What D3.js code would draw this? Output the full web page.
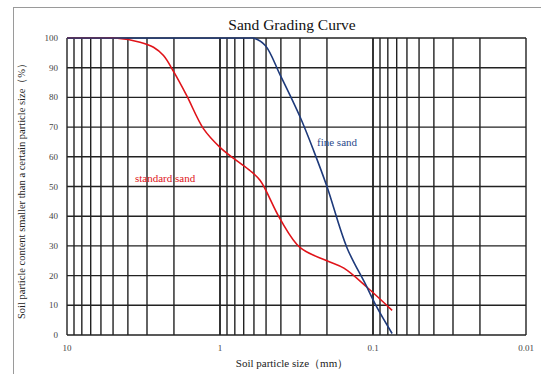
<!DOCTYPE html>
<html>
<head>
<meta charset="utf-8">
<script src="https://cdn.jsdelivr.net/npm/d3@7/dist/d3.min.js"></script>
<style>
  html, body { margin: 0; padding: 0; background: #fff; }
  svg { display: block; font-family: "Liberation Serif", "DejaVu Serif", serif; }
</style>
</head>
<body>
<svg id="chart" width="541" height="374"></svg>
<script>
// Particle sizes (mm) and percent passing for each sand
const standardSize = [10, 5.6, 4.85, 3.33, 2.72, 2.34, 2.0, 1.65, 1.28, 1.0, 0.778, 0.635, 0.546, 0.404, 0.299, 0.2, 0.155, 0.109, 0.075];
const standardPass = [100, 100, 100, 98.6, 96.9, 94.1, 88.5, 80.6, 69.4, 63.2, 58.7, 55.3, 52.0, 39.0, 29.4, 25.0, 22.5, 16.0, 8.3];
const fineSize = [10, 0.66, 0.604, 0.506, 0.404, 0.299, 0.244, 0.2, 0.148, 0.112, 0.094, 0.075];
const finePass = [100, 100, 100, 97.5, 87.5, 73.3, 62.0, 50.0, 29.4, 17.1, 9.2, 0.5];
const xTickLabels = [10, 1, 0.1, 0.01];
const yTickValues = [0, 10, 20, 30, 40, 50, 60, 70, 80, 90, 100];

const svg = d3.select("#chart");
const m = { left: 67, right: 526, top: 38, bottom: 335 };

const x = d3.scaleLog().domain([10, 0.01]).range([m.left, m.right]);
const y = d3.scaleLinear().domain([0, 100]).range([m.bottom, m.top]);

// outer frame
svg.append("rect")
  .attr("x", 13.5).attr("y", 7.5).attr("width", 560).attr("height", 400)
  .attr("fill", "none").attr("stroke", "#9a9a9a").attr("stroke-width", 1);

// title
svg.append("text")
  .attr("x", 292).attr("y", 30).attr("text-anchor", "middle")
  .attr("font-size", 15.5).attr("fill", "#111")
  .text("Sand Grading Curve");

// log grid: every integer multiple within each decade
const vLines = [];
[1, 0.1, 0.01].forEach(dec => {
  for (let k = 1; k <= 10; k++) vLines.push(dec * k);
});
const gridColor = "#222";
svg.append("g").selectAll("line").data(vLines).join("line")
  .attr("x1", d => x(d)).attr("x2", d => x(d))
  .attr("y1", m.top).attr("y2", m.bottom)
  .attr("stroke", gridColor).attr("stroke-width", 1.4);

svg.append("g").selectAll("line").data(yTickValues).join("line")
  .attr("x1", m.left).attr("x2", m.right)
  .attr("y1", d => y(d)).attr("y2", d => y(d))
  .attr("stroke", gridColor).attr("stroke-width", 1.4);

// y axis tick labels
svg.append("g").selectAll("text").data(yTickValues).join("text")
  .attr("x", 58).attr("y", d => y(d) + 3)
  .attr("text-anchor", "end").attr("font-size", 9).attr("fill", "#444")
  .text(d => d);

// x axis tick labels
svg.append("g").selectAll("text").data(xTickLabels).join("text")
  .attr("x", d => x(d)).attr("y", 351)
  .attr("text-anchor", "middle").attr("font-size", 9).attr("fill", "#444")
  .text(d => d);

// axis titles
svg.append("text")
  .attr("x", 292).attr("y", 367).attr("text-anchor", "middle")
  .attr("font-size", 11).attr("fill", "#222")
  .text("Soil particle size（mm）");

svg.append("text")
  .attr("transform", "translate(25," + ((m.top + m.bottom) / 2 + 2) + ") rotate(-90)")
  .attr("text-anchor", "middle").attr("font-size", 10.5).attr("fill", "#222")
  .text("Soil particle content smaller than a certain particle size（%）");

// keep curves inside the plot frame
svg.append("clipPath").attr("id", "plot-clip")
  .append("rect").attr("x", m.left - 1).attr("y", m.top - 0.8)
  .attr("width", m.right - m.left + 2).attr("height", m.bottom - m.top + 2);

// grading curves (smoothed)
const line = d3.line().x(d => x(d[0])).y(d => y(d[1])).curve(d3.curveCatmullRom.alpha(0.5));
const standardPts = standardSize.map((s, i) => [s, standardPass[i]]);
const finePts = fineSize.map((s, i) => [s, finePass[i]]);

const curves = svg.append("g").attr("clip-path", "url(#plot-clip)");
curves.append("path").datum(standardPts).attr("d", line)
  .attr("fill", "none").attr("stroke", "#e0141a").attr("stroke-width", 1.6);
curves.append("path").datum(finePts).attr("d", line)
  .attr("fill", "none").attr("stroke", "#1e3a7b").attr("stroke-width", 1.6);

// curve labels
svg.append("text")
  .attr("x", 135).attr("y", 182).attr("font-size", 11).attr("fill", "#e0141a")
  .text("standard sand");
svg.append("text")
  .attr("x", 317).attr("y", 146).attr("font-size", 11).attr("fill", "#2a4a8c")
  .text("fine sand");
</script>
</body>
</html>
